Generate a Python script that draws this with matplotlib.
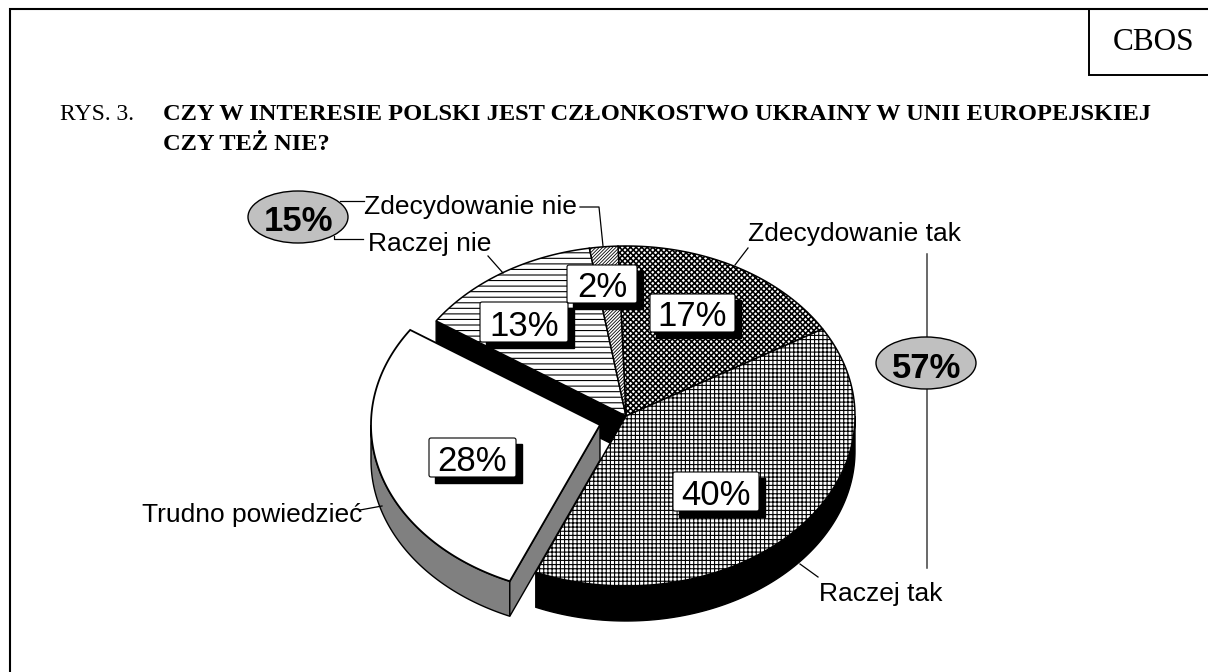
import numpy as np
import matplotlib
matplotlib.use("Agg")
import matplotlib.pyplot as plt
from matplotlib.patches import Ellipse, FancyBboxPatch, Polygon, Rectangle

# slices, clockwise from the top of the pie
categories = ["Zdecydowanie tak", "Raczej tak", "Trudno powiedzieć", "Raczej nie", "Zdecydowanie nie"]
shares = [17, 40, 28, 13, 2]
sum_yes = 57
sum_no = 15

title_prefix = "RYS. 3."
title_lines = ["CZY W INTERESIE POLSKI JEST CZŁONKOSTWO UKRAINY W UNII EUROPEJSKIEJ", "CZY TEŻ NIE?"]

# layout, in pixels of the 1208x672 picture
cx, cy = 626, 416
rx, ry = 229, 170
depth = 35
start = -2
shift = (-26, 9)
hatches = ["xxxxxx", "++++", None, "---", "//////////"]
hatch_lw = [1.15, 0.8, 0.8, 0.8, 0.6]
boxes = [(650, 294, 85, 38), (673, 472, 86, 39), (429, 438, 87, 39), (480, 302, 88, 40), (567, 265, 70, 38)]

fig = plt.figure(figsize=(12.08, 6.72), dpi=100)
ax = fig.add_axes([0, 0, 1, 1])
ax.set_xlim(0, 1208)
ax.set_ylim(672, 0)
ax.axis("off")


def rim(t, x0=cx, y0=cy):
    t = np.radians(t)
    return np.column_stack([x0 + rx * np.sin(t), y0 - ry * np.cos(t)])


def arc(a, b, x0=cx, y0=cy):
    return rim(np.linspace(a, b, 120), x0, y0)


def side(a, b, color, x0=cx, y0=cy):
    pts = arc(a, b, x0, y0)
    low = pts[::-1] + [0, depth]
    ax.add_patch(Polygon(np.vstack([pts, low]), closed=True, fc=color, ec="black", lw=1))


edges = start + np.cumsum([0] + shares) * 3.6

# frame and CBOS box
ax.plot([10, 10, 1208], [672, 9, 9], color="black", lw=1.5, solid_joinstyle="miter")
ax.plot([1089, 1089, 1208], [9, 75, 75], color="black", lw=1.4, solid_joinstyle="miter")
ax.text(1154, 50, "CBOS", family="Liberation Serif", fontsize=22.5, ha="center", va="baseline")

# title
ax.text(60, 120, title_prefix, family="Liberation Serif", fontsize=17, va="baseline")
ax.text(163, 120, title_lines[0], family="Liberation Serif", weight="bold", fontsize=17.55, va="baseline")
ax.text(163, 150, title_lines[1], family="Liberation Serif", weight="bold", fontsize=17.55, va="baseline")

# black wall behind the pulled out slice
p = rim(edges[3])[0]
ax.add_patch(Polygon([(cx, cy), p, p + [0, depth], (cx, cy + depth)], closed=True, fc="black", ec="black", lw=1))

# rim under the slices which stay in place
side(90, edges[2], "black")

# top faces
for i in [0, 1, 3, 4]:
    plt.rcParams["hatch.linewidth"] = hatch_lw[i]
    pts = np.vstack([[(cx, cy)], arc(edges[i], edges[i + 1])])
    ax.add_patch(Polygon(pts, closed=True, fc="white", ec="black", lw=1.1, hatch=hatches[i]))

# pulled out slice
vx, vy = cx + shift[0], cy + shift[1]
side(edges[2], 270, "#808080", vx, vy)
q = rim(edges[2], vx, vy)[0]
ax.add_patch(Polygon([(vx, vy), q, q + [0, depth], (vx, vy + depth)], closed=True, fc="#808080", ec="black", lw=1))
pts = np.vstack([[(vx, vy)], arc(edges[2], edges[3], vx, vy)])
ax.add_patch(Polygon(pts, closed=True, fc="white", ec="black", lw=1.3))

# percent labels
for val, (x, y, w, h) in zip(shares, boxes):
    ax.add_patch(Rectangle((x + 6, y + 6), w, h, fc="black", ec="black", lw=1))
    ax.add_patch(FancyBboxPatch((x + 2, y + 2), w - 4, h - 4, boxstyle="round,pad=2,rounding_size=2",
                                fc="white", ec="black", lw=0.8))
    ax.text(x + w / 2, y + h - 6, f"{val}%", family="Liberation Sans", fontsize=25, ha="center", va="baseline")

# category labels and leader lines
label_pos = [(748, 241, "left"), (819, 601, "left"), (362, 522, "right"), (368, 251, "left"), (364, 214, "left")]
for name, (x, y, ha) in zip(categories, label_pos):
    ax.text(x, y, name, family="Liberation Sans", fontsize=19, ha=ha, va="baseline")

leaders = [
    [(748, 248), (735, 265)],
    [(800, 564), (818, 577)],
    [(360, 510), (382, 506)],
    [(488, 256), (503, 273)],
    [(580, 207), (599, 207), (603, 246)],
    [(340, 201), (364, 201)],
    [(334, 236), (334, 239), (363, 239)],
]
for line in leaders:
    xs, ys = zip(*line)
    ax.plot(xs, ys, color="black", lw=0.9)

# summary ovals
ax.plot([927, 927], [254, 568], color="#404040", lw=1.1, zorder=1)
for val, (x, y, dy) in zip([sum_yes, sum_no], [(926, 363, 15), (298, 217, 14)]):
    ax.add_patch(Ellipse((x, y), 100, 52, fc="#c0c0c0", ec="black", lw=1, zorder=3))
    ax.text(x + 1, y + dy, f"{val}%", family="Liberation Sans", weight="bold", fontsize=25, ha="center", va="baseline", zorder=4)

fig.savefig("out.png", dpi=100)
